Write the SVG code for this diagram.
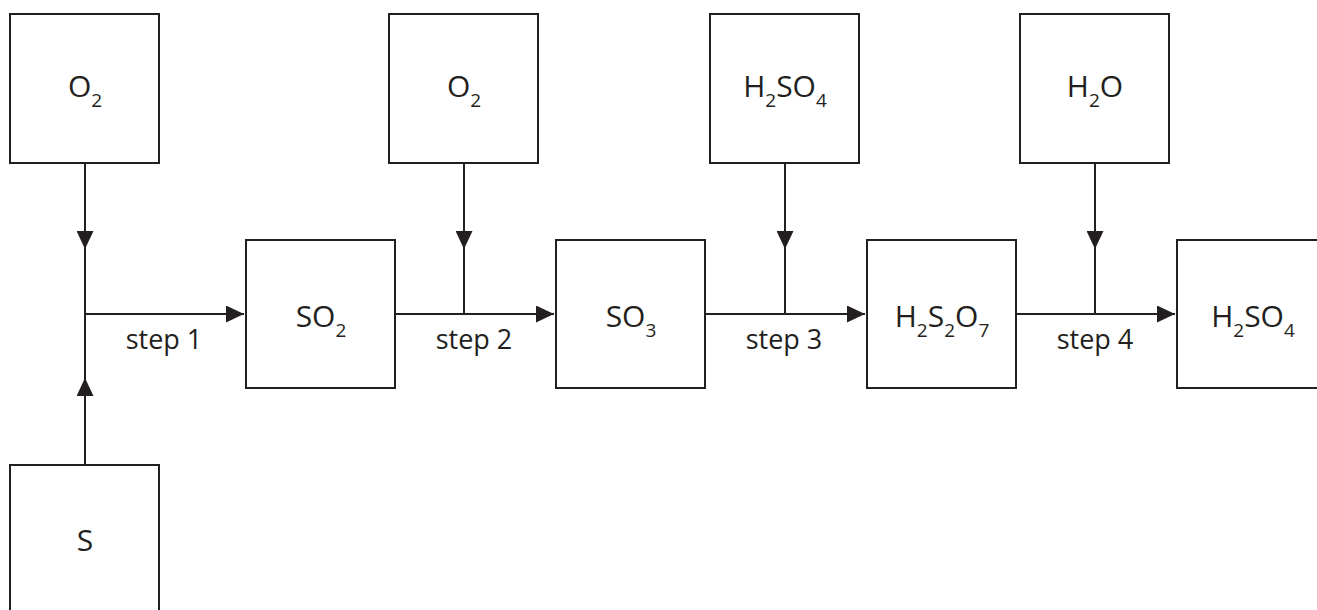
<svg xmlns="http://www.w3.org/2000/svg" width="1317" height="610" viewBox="0 0 1317 610">
<style>
.box{fill:#fff;stroke:#231f20;stroke-width:2}
.ln{stroke:#231f20;stroke-width:2;fill:none}
.f{font-family:"Open Sans","Liberation Sans",sans-serif;font-size:30px;fill:#231f20;text-anchor:middle}
.s{font-size:19px}
.st{font-family:"Open Sans","Liberation Sans",sans-serif;font-size:27px;fill:#231f20;text-anchor:middle}
</style>
<defs>
<marker id="ah" markerUnits="userSpaceOnUse" markerWidth="18" markerHeight="17" refX="18" refY="8.5" orient="auto">
<path d="M0,0 L18,8.5 L0,17 z" fill="#231f20"/>
</marker>
</defs>
<rect width="1317" height="610" fill="#fff"/>
<g id="connectors">
<line class="ln" x1="85" y1="163" x2="85" y2="249" marker-end="url(#ah)"/>
<line class="ln" x1="85" y1="248" x2="85" y2="314"/>
<line class="ln" x1="85" y1="465" x2="85" y2="378" marker-end="url(#ah)"/>
<line class="ln" x1="85" y1="379" x2="85" y2="313"/>
<line class="ln" x1="85" y1="314" x2="244" y2="314" marker-end="url(#ah)"/>
<line class="ln" x1="464" y1="163" x2="464" y2="249" marker-end="url(#ah)"/>
<line class="ln" x1="464" y1="248" x2="464" y2="314"/>
<line class="ln" x1="395" y1="314" x2="554" y2="314" marker-end="url(#ah)"/>
<line class="ln" x1="785" y1="163" x2="785" y2="249" marker-end="url(#ah)"/>
<line class="ln" x1="785" y1="248" x2="785" y2="314"/>
<line class="ln" x1="705" y1="314" x2="865" y2="314" marker-end="url(#ah)"/>
<line class="ln" x1="1095" y1="163" x2="1095" y2="249" marker-end="url(#ah)"/>
<line class="ln" x1="1095" y1="248" x2="1095" y2="314"/>
<line class="ln" x1="1016" y1="314" x2="1175" y2="314" marker-end="url(#ah)"/>
<text class="st" x="164" y="349">step 1</text>
<text class="st" x="474" y="349">step 2</text>
<text class="st" x="784" y="349">step 3</text>
<text class="st" x="1095" y="349">step 4</text>
</g>
<g id="n-o2a"><rect class="box" x="10" y="14" width="149" height="149"/><text class="f" x="85" y="97">O<tspan class="s" dy="10">2</tspan></text></g>
<g id="n-s"><rect class="box" x="10" y="465" width="149" height="149"/><text class="f" x="85" y="551">S</text></g>
<g id="n-so2"><rect class="box" x="246" y="240" width="149" height="148"/><text class="f" x="321" y="327">SO<tspan class="s" dy="10">2</tspan></text></g>
<g id="n-o2b"><rect class="box" x="389" y="14" width="149" height="149"/><text class="f" x="464" y="97">O<tspan class="s" dy="10">2</tspan></text></g>
<g id="n-so3"><rect class="box" x="556" y="240" width="149" height="148"/><text class="f" x="631" y="327">SO<tspan class="s" dy="10">3</tspan></text></g>
<g id="n-h2so4a"><rect class="box" x="710" y="14" width="149" height="149"/><text class="f" x="785" y="97">H<tspan class="s" dy="10">2</tspan><tspan dy="-10">SO</tspan><tspan class="s" dy="10">4</tspan></text></g>
<g id="n-h2s2o7"><rect class="box" x="867" y="240" width="149" height="148"/><text class="f" x="942" y="327">H<tspan class="s" dy="10">2</tspan><tspan dy="-10">S</tspan><tspan class="s" dy="10">2</tspan><tspan dy="-10">O</tspan><tspan class="s" dy="10">7</tspan></text></g>
<g id="n-h2o"><rect class="box" x="1020" y="14" width="149" height="149"/><text class="f" x="1095" y="97">H<tspan class="s" dy="10">2</tspan><tspan dy="-10">O</tspan></text></g>
<g id="n-h2so4b"><rect class="box" x="1177" y="240" width="149" height="148"/><text class="f" x="1253" y="327">H<tspan class="s" dy="10">2</tspan><tspan dy="-10">SO</tspan><tspan class="s" dy="10">4</tspan></text></g>
</svg>
